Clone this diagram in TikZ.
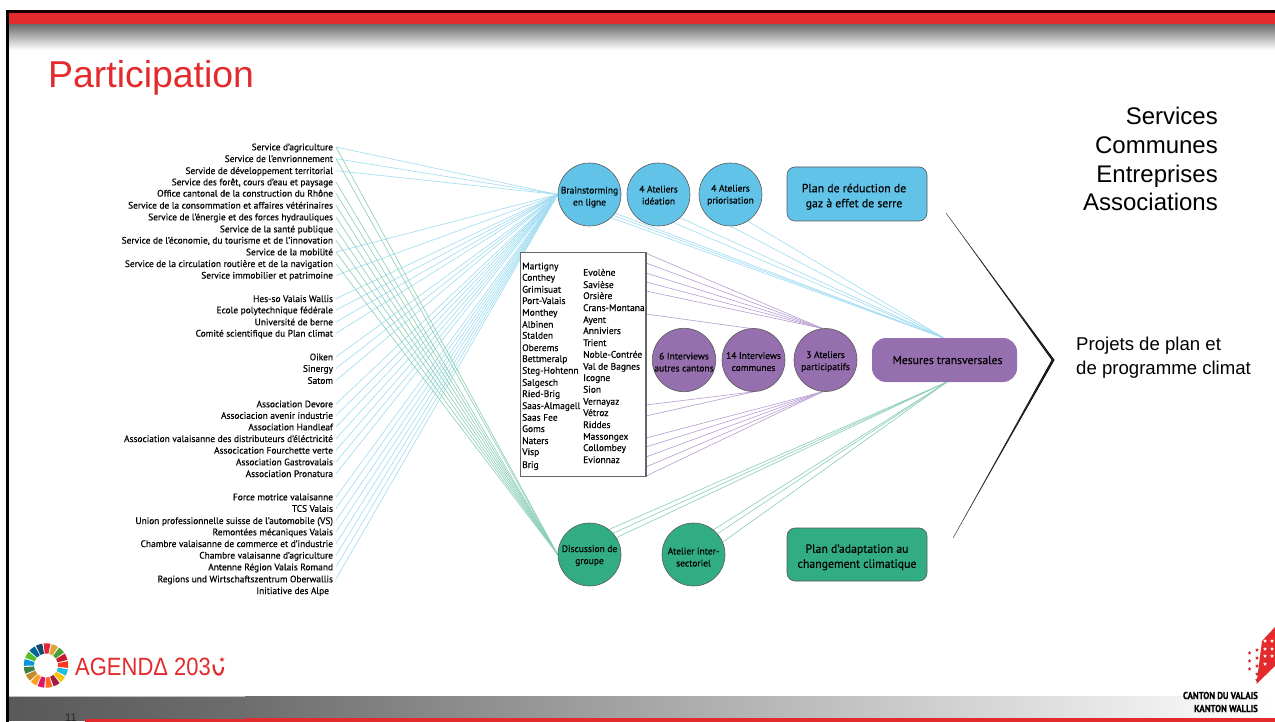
\documentclass[tikz,border=0pt]{standalone}
\usepackage{fontspec}
\setmainfont{PT Sans}[FakeBold=0.35]
\newfontfamily\arialf{Liberation Sans}
\usetikzlibrary{backgrounds,shapes.geometric}
\definecolor{cblue}{HTML}{62C3E8}
\definecolor{cpurple}{HTML}{9670AE}
\definecolor{cgreen}{HTML}{32AD83}
\definecolor{lblue}{HTML}{A3DDF2}
\definecolor{lgreen}{HTML}{8FD0B8}
\definecolor{lpurple}{HTML}{BBA2D6}
\definecolor{cred}{HTML}{E32B2D}
\definecolor{bordergray}{HTML}{5A5A5A}
\newcommand{\dn}[1]{\rule{0pt}{#1pt}}
\tikzset{
  x=1pt,y=-1pt,
  lab/.style={anchor=east,inner sep=0pt,outer sep=3pt,text height=7.2pt,text depth=.6pt,font=\fontsize{9.4}{10}\selectfont,text=black},
  town/.style={anchor=base west,inner sep=0pt,font=\fontsize{9.5}{10}\selectfont,text=black},
  disc/.style={circle,minimum size=63pt,inner sep=0pt,draw=bordergray,line width=.6pt,align=center,font=\fontsize{9.5}{12}\selectfont,text=black},
  plan/.style={rectangle,rounded corners=8pt,minimum width=140pt,minimum height=54pt,inner sep=0pt,draw=bordergray,line width=.6pt,align=center,font=\fontsize{11.8}{15}\selectfont,text=black},
  bluel/.style={draw=lblue,line width=.65pt},
  greenl/.style={draw=lgreen,line width=.65pt},
  purplel/.style={draw=lpurple,line width=.65pt},
  bigtext/.style={font=\arialf\fontsize{24}{28.8}\selectfont,align=right,inner sep=0pt},
  midtext/.style={font=\arialf\fontsize{18.6}{24}\selectfont,align=left,inner sep=0pt},
  vsstar/.style={star,star points=5,star point ratio=2.3,minimum size=4pt,inner sep=0pt},
}
\begin{document}
\begin{tikzpicture}
\useasboundingbox (0,0) rectangle (1275,722);
% slide frame
\begin{pgfonlayer}{background}
\fill[white] (0,0) rectangle (1275,722);
\end{pgfonlayer}
\fill[top color=black!58,bottom color=white] (9,24) rectangle (1275,50);
\fill[cred] (9,13) rectangle (1275,24);
\fill[black!90!red] (6,10) rectangle (1275,13);
\fill[left color=black!57,right color=white] (245,696) rectangle (1275,718);
\fill[left color=black!65,right color=black!57] (9,697) rectangle (245,720);
\fill[black!25] (9,696) rectangle (245,697);
\fill[cred] (85,719) rectangle (245,722);
\fill[cred] (245,717.5) rectangle (1275,722);
\node[font=\arialf\fontsize{11}{11}\selectfont,anchor=base west,inner sep=0pt,text=black!85] (pageno) at (65,721.5) {11};
\fill[black] (6,10) rectangle (9,722);
% title
\node[font=\arialf\fontsize{37.4}{37}\selectfont,text=cred,anchor=base west,inner sep=0pt] (title) at (48,88) {Participation};
% left labels
\foreach \n/\y/\t in {
 1/147/{Service d’agriculture},
 2/158.7/{Service de l’envrionnement},
 3/170.7/{Servide de développement territorial},
 4/182/{Service des forêt, cours d’eau et paysage},
 5/193.3/{Office cantonal de la construction du Rhône},
 6/205.3/{Service de la consommation et affaires vétérinaires},
 7/217/{Service de l’énergie et des forces hydrauliques},
 8/229/{Service de la santé publique},
 9/240.3/{Service de l’économie, du tourisme et de l’innovation},
 10/252/{Service de la mobilité},
 11/263.7/{Service de la circulation routière et de la navigation},
 12/275.3/{Service immobilier et patrimoine},
 13/298.7/{Hes-so Valais Wallis},
 14/310/{Ecole polytechnique fédérale},
 15/322/{Université de berne},
 16/333.3/{Comité scientifique du Plan climat},
 17/357/{Oiken},
 18/368.5/{Sinergy},
 19/380.5/{Satom},
 20/404/{Association Devore},
 21/415.5/{Associacion avenir industrie},
 22/427/{Association Handleaf},
 23/438.7/{Association valaisanne des distributeurs d’éléctricité},
 24/450.3/{Assocication Fourchette verte},
 25/462/{Association Gastrovalais},
 26/473.7/{Association Pronatura},
 27/497/{Force motrice valaisanne},
 28/508.5/{TCS Valais},
 29/520.7/{Union professionnelle suisse de l’automobile (VS)},
 30/532/{Remontées mécaniques Valais},
 31/543.7/{Chambre valaisanne de commerce et d’industrie},
 32/555.3/{Chambre valaisanne d’agriculture},
 33/567/{Antenne Région Valais Romand},
 34/579/{Regions und Wirtschaftszentrum Oberwallis}}
{\node[lab] (l\n) at (336,\y) {\t};}
\node[lab,outer sep=7pt] (l35) at (336,590.7) {Initiative des Alpe};
% circles and boxes
\node[disc,fill=cblue] (bs) at (589.5,194.5) {\dn{12}Brainstorming\\en ligne};
\node[disc,fill=cblue] (ide) at (658.5,194.5) {\dn{8}4 Ateliers\\idéation};
\node[disc,fill=cblue] (pri) at (730.5,194.5) {\dn{8}4 Ateliers\\priorisation};
\node[plan,fill=cblue] (reduc) at (857,194) {\dn{14}Plan de réduction de\hspace*{6pt}\\gaz à effet de serre\hspace*{6pt}};
\node[disc,fill=cpurple] (int6) at (684,360) {\dn{11}6 Interviews\\autres cantons};
\node[disc,fill=cpurple] (int14) at (753.5,360) {\dn{10}14 Interviews\\communes};
\node[disc,fill=cpurple] (atp) at (825.5,360) {\dn{10}3 Ateliers\\participatifs};
\node[rectangle,rounded corners=14pt,minimum width=145pt,minimum height=44pt,inner sep=0pt,fill=cpurple,font=\fontsize{11.7}{14}\selectfont,text=black] (mes) at (944.5,360) {\hspace*{6pt}Mesures transversales};
\node[disc,fill=cgreen] (dis) at (589.5,554.5) {\dn{9}Discussion de\\groupe};
\node[disc,fill=cgreen] (ati) at (693.5,554.5) {\dn{12}Atelier inter-\\sectoriel};
\node[plan,fill=cgreen,minimum height=53pt] (adapt) at (857,554.5) {\dn{14}Plan d’adaptation au\\changement climatique};
% list of municipalities
\node[rectangle,draw=black!60,line width=1.4pt,fill=white,minimum width=125.3pt,minimum height=224pt,inner sep=0pt] (list) at (583.4,364.7) {};
\foreach \y/\t in {266.3/Martigny,277.7/Conthey,289.7/Grimisuat,301/Port-Valais,312.7/Monthey,324.7/Albinen,335.7/Stalden,348/Oberems,359/Bettmeralp,370.7/Steg-Hohtenn,382.7/Salgesch,394/Ried-Brig,406/Saas-Almagell,417.7/Saas Fee,429/Goms,441/Naters,452/Visp,465/Brig}
{\node[town] (t\t) at (522,\y+3) {\t};}
\foreach \y/\t in {272.7/Evolène,285/Savièse,296/Orsière,308/Crans-Montana,320/Ayent,331/Anniviers,343/Trient,354.7/Noble-Contrée,366.7/Val de Bagnes,378/Icogne,389.7/Sion,401.7/Vernayaz,413/Vétroz,425/Riddes,436.7/Massongex,448/Collombey,460/Evionnaz}
{\node[town] (t\t) at (583,\y+3) {\t};}
% connector ends
\coordinate (mesb) at (944,338);
\coordinate (mesg) at (947,382);
\foreach \n/\y in {a/253.3,b/263,c/273,d/282,e/291,f/314,g/405,h/416,i/438,j/447,k/457,m/467,n/476}
{\coordinate (p\n) at (646,\y);}
% connectors
\begin{pgfonlayer}{background}
\foreach \i in {1,2,3,10,12,13,14,15,16,17,18,19,20,21,22,23,24,25,26,27,28,29,30,31,32,33,34}
{\draw[bluel] (l\i.east) -- (bs.west);}
\foreach \i in {1,2,4,5,6,7,8,9,10,11}
{\draw[greenl] (l\i.east) -- (dis.west);}
\foreach \a in {-36,-41,-47}{\draw[bluel] (bs.\a) -- (mesb);}
\foreach \a in {-62,-47}{\draw[bluel] (ide.\a) -- (mesb);}
\foreach \a in {-89,-57}{\draw[bluel] (pri.\a) -- (mesb);}
\foreach \n in {a,b,c,d,e}{\draw[purplel] (p\n) -- (atp.96);}
\draw[purplel] (pf) -- (int14.96);
\foreach \n in {g,h}{\draw[purplel] (p\n) -- (int14.270);}
\foreach \n in {i,j,k,m,n}{\draw[purplel] (p\n) -- (atp.265);}
\foreach \a in {52,42,32}{\draw[greenl] (dis.\a) -- (mesg);}
\foreach \a in {51,41,23}{\draw[greenl] (ati.\a) -- (mesg);}
\end{pgfonlayer}
% chevron
\fill[black] (946,213) -- (1054.5,360) -- (953,538) -- (1051.6,360) -- cycle;
\draw[black!70,line width=.35pt] (946,213) -- (1053,360) -- (953,538);
% right texts
\node[bigtext,anchor=north east] (actors) at (1218,107) {Services\\Communes\\Entreprises\\Associations};
\node[midtext,anchor=north west] (projets) at (1076,336.5) {Projets de plan et\\de programme climat};
% Agenda 2030 logo
\begin{scope}[shift={(46,665.5)}]
\foreach \c [count=\i] in {E5243B,DDA63A,4C9F38,C5192D,FF3A21,26BDE2,FCC30B,A21942,FD6925,DD1367,FD9D24,BF8B2E,3F7E44,0A97D9,56C02B,00689D,19486A}
{\pgfmathsetmacro{\aone}{96-(\i-1)*360/17}
 \pgfmathsetmacro{\atwo}{\aone-17.6}
 \definecolor{wc}{HTML}{\c}
 \fill[wc] (\aone:22.2pt) arc[start angle=\aone,end angle=\atwo,radius=22.2pt] -- (\atwo:12pt) arc[start angle=\atwo,end angle=\aone,radius=12pt] -- cycle;}
\end{scope}
\node[font=\arialf\fontsize{25}{25}\selectfont,text=cred,anchor=base west,inner sep=0pt,xscale=.88,transform shape] (agenda) at (75,675) {AGENDΔ 203};
\draw[cred,line width=2.2pt] (213.5,664.5) .. controls (213.5,677.5) and (223,677.5) .. (223,667);
\node[vsstar,fill=cred,minimum size=5.5pt] (astar) at (222,659.5) {};
% Valais logo
\fill[cred] (1275,627) -- (1262,641) -- (1256.5,684) -- (1275,666) -- cycle;
\foreach \n/\x/\y in {a/1249.5/653,b/1249.5/661,c/1249.5/669,d/1257/650,e/1257/658,f/1257/666,g/1257/674,h/1257/680}
{\node[vsstar,fill=cred!85!black] (sr\n) at (\x,\y) {};}
\foreach \n/\x/\y in {a/1265/641,b/1265/649,c/1265/656,d/1265/664,e/1272/641,f/1272/649,g/1272/656}
{\node[vsstar,fill=white] (sw\n) at (\x,\y) {};}
\node[font=\fontsize{10}{10}\bfseries\selectfont,anchor=base east,inner sep=0pt,xscale=.88,transform shape,text=black] (canton) at (1258,699) {CANTON DU VALAIS};
\node[font=\fontsize{10}{10}\bfseries\selectfont,anchor=base east,inner sep=0pt,xscale=.88,transform shape,text=black] (kanton) at (1258,712) {KANTON WALLIS};
\end{tikzpicture}
\end{document}
